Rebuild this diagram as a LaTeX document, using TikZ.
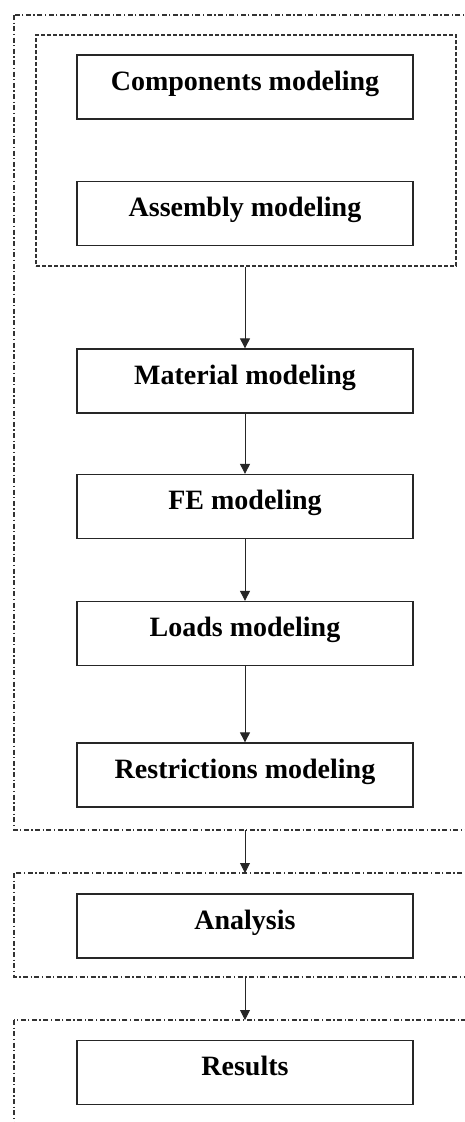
\documentclass[tikz,border=0pt]{standalone}
\usepackage{fontspec}
\setmainfont{Liberation Serif}
\usetikzlibrary{arrows.meta}
\begin{document}
\begin{tikzpicture}[x=1pt,y=-1pt,
  stepbox/.style={draw=black!85,line width=1.3pt,minimum width=336pt,minimum height=64pt,
    inner sep=0pt,text height=18pt,text depth=12pt,
    font=\fontsize{28}{32}\selectfont\bfseries},
  groupbox/.style={draw=black!80,line width=1.5pt,dash pattern=on 5pt off 2.5pt on 1.3pt off 2.5pt},
  subbox/.style={draw=black!80,line width=1.3pt,dash pattern=on 4pt off 2pt},
  flow/.style={draw=black!85,line width=0.9pt,-{Triangle[length=10pt,width=10pt]}}]
\useasboundingbox (0,0) rectangle (465,1122);
\fill[white] (0,0) rectangle (465,1122);
% group frames (open on the right)
\draw[groupbox] (14,15) rectangle (490,830);
\draw[groupbox] (14,873) rectangle (490,977);
\draw[groupbox] (14,1020) rectangle (490,1160);
\coordinate (g1s) at (245,830);
\coordinate (g2n) at (245,873);
\coordinate (g2s) at (245,977);
\coordinate (g3n) at (245,1020);
% geometry sub-group
\node[subbox,minimum width=420pt,minimum height=231pt,inner sep=0pt] (geo) at (246,150.5) {};
% steps
\node[stepbox] (comp) at (245,87) {Components modeling};
\node[stepbox] (asm) at (245,213.5) {Assembly modeling};
\node[stepbox] (mat) at (245,381) {Material modeling};
\node[stepbox] (fe) at (245,506.5) {FE modeling};
\node[stepbox] (load) at (245,633.5) {Loads modeling};
\node[stepbox] (restr) at (245,775) {Restrictions modeling};
\node[stepbox] (ana) at (245,926) {Analysis};
\node[stepbox] (res) at (245,1072.5) {Results};
% connectors
\draw[flow] (geo.south -| mat.north) -- (mat.north);
\draw[flow] (mat) -- (fe);
\draw[flow] (fe) -- (load);
\draw[flow] (load) -- (restr);
\draw[flow] (g1s) -- (g2n);
\draw[flow] (g2s) -- (g3n);
\end{tikzpicture}
\end{document}
